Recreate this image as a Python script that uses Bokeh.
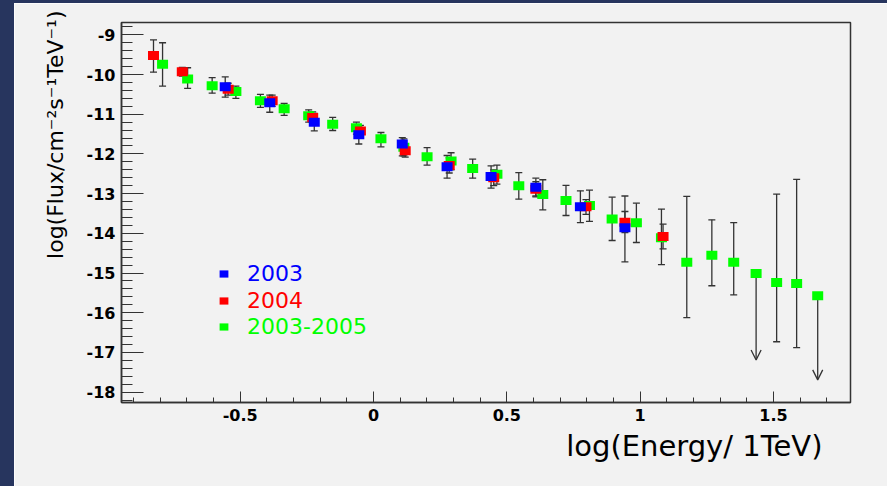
import numpy as np
from bokeh.plotting import figure
from bokeh.models import (ColumnDataSource, Whisker, TeeHead, Arrow, OpenHead, Title,
                          Legend, LegendItem, FixedTicker, Range1d, Div)
from bokeh.layouts import row, column
from bokeh.embed import file_html
from bokeh.resources import INLINE

# ---------------- data (log10 E/TeV, log10 flux) ----------------
x_2003 = [-0.556, -0.389, -0.222, -0.055, 0.108, 0.276, 0.441, 0.609, 0.776, 0.943]
y_2003 = [-10.31, -10.71, -11.20, -11.52, -11.75, -12.32, -12.57, -12.84, -13.33, -13.86]
hi_2003 = [-10.06, -10.52, -10.98, -11.30, -11.59, -12.04, -12.30, -12.61, -12.93, -13.06]
lo_2003 = [-10.57, -10.95, -11.42, -11.75, -12.05, -12.61, -12.86, -13.06, -13.73, -14.72]

x_2004 = [-0.825, -0.717, -0.545, -0.380, -0.228, -0.049, 0.119, 0.284, 0.451, 0.609, 0.797, 0.943, 1.086]
y_2004 = [-9.52, -9.93, -10.37, -10.66, -11.08, -11.42, -11.92, -12.29, -12.60, -12.89, -13.33, -13.72, -14.08]
hi_2004 = [-9.13, -9.82, -10.22, -10.52, -10.94, -11.28, -11.75, -12.10, -12.40, -12.70, -13.15, -13.45, -13.77]
lo_2004 = [-9.94, -10.04, -10.52, -10.80, -11.22, -11.56, -12.08, -12.48, -12.80, -13.08, -13.52, -13.98, -14.39]

x_0305 = [-0.791, -0.697, -0.605, -0.516, -0.424, -0.335, -0.243, -0.153, -0.064, 0.028,
          0.114, 0.201, 0.291, 0.372, 0.463, 0.545, 0.635, 0.722, 0.810, 0.895,
          0.986, 1.080, 1.175, 1.269, 1.351, 1.435, 1.512, 1.587, 1.666]
y_0305 = [-9.74, -10.11, -10.28, -10.43, -10.66, -10.86, -11.04, -11.25, -11.34, -11.62,
          -11.83, -12.07, -12.18, -12.37, -12.51, -12.80, -13.02, -13.17, -13.30, -13.64,
          -13.73, -14.11, -14.73, -14.55, -14.73, -15.01, -15.24, -15.26, -15.57]
hi_0305 = [-9.20, -9.83, -10.08, -10.29, -10.50, -10.73, -10.89, -11.08, -11.20, -11.46,
           -11.62, -11.84, -11.97, -12.13, -12.28, -12.47, -12.65, -12.79, -12.91, -13.09,
           -13.24, -13.39, -13.07, -13.66, -13.73, None, -13.01, -12.64, None]
lo_0305 = [-10.29, -10.35, -10.47, -10.60, -10.83, -11.03, -11.20, -11.41, -11.50, -11.82,
           -12.05, -12.28, -12.40, -12.61, -12.76, -13.14, -13.41, -13.55, -13.70, -14.18,
           -14.23, -14.79, -16.12, -15.32, -15.55, None, -16.73, -16.88, None]
# upper limits (arrow tips) for the 2003-2005 points without error bars
ul_tip_0305 = [None] * 25 + [-17.19, None, None, -17.69]

series_labels = ["2003", "2004", "2003-2005"]
series_colors = ["#0000ff", "#ff0000", "#00ff00"]

x_ticks = [-0.5, 0, 0.5, 1, 1.5]
x_tick_labels = ["-0.5", "0", "0.5", "1", "1.5"]
y_ticks = [-18, -17, -16, -15, -14, -13, -12, -11, -10, -9]
y_tick_labels = ["-18", "-17", "-16", "-15", "-14", "-13", "-12", "-11", "-10", "-9"]
x_title = "log(Energy/ 1TeV)"
y_title = "log(Flux/cm\u207b\u00b2s\u207b\u00b9TeV\u207b\u00b9)"

# ---------------- figure ----------------
PANEL = "#f2f2f2"
INK = "#333333"
DARK = "#27355e"

p = figure(frame_width=729, frame_height=380,
           min_border_left=107, min_border_right=37, min_border_top=19, min_border_bottom=84,
           x_range=Range1d(-0.945, 1.789), y_range=Range1d(-18.26, -8.69),
           output_backend="svg", toolbar_location=None,
           background_fill_color=PANEL, border_fill_color=PANEL)
p.grid.visible = False
p.outline_line_color = INK
p.outline_line_width = 1.5

xa = p.xaxis[0]
xa.ticker = FixedTicker(ticks=x_ticks,
                        minor_ticks=[round(v, 2) for v in np.arange(-0.9, 1.79, 0.1)])
xa.major_label_overrides = dict(zip(x_ticks, x_tick_labels))
xa.major_tick_in = 11
xa.major_tick_out = 0
xa.minor_tick_in = 5
xa.minor_tick_out = 0
xa.major_label_standoff = 6

ya = p.yaxis[0]
ya.ticker = FixedTicker(ticks=y_ticks,
                        minor_ticks=[round(v, 2) for v in np.arange(-18.2, -8.69, 0.2)])
ya.major_label_overrides = dict(zip(y_ticks, y_tick_labels))
ya.major_tick_in = 22
ya.major_tick_out = 0
ya.minor_tick_in = 11
ya.minor_tick_out = 0
ya.major_label_standoff = 6

for ax in (xa, ya):
    ax.axis_line_color = INK
    ax.axis_line_width = 1.5
    ax.major_tick_line_color = INK
    ax.minor_tick_line_color = INK
    ax.major_tick_line_width = 1
    ax.minor_tick_line_width = 1
    ax.major_label_text_font = "DejaVu Sans"
    ax.major_label_text_font_style = "bold"
    ax.major_label_text_font_size = "16px"
    ax.major_label_text_color = "black"
    ax.axis_label = None


def add_series(xs, ys, his, los, color):
    keep = [i for i in range(len(xs)) if his[i] is not None]
    wsrc = ColumnDataSource(dict(x=[xs[i] for i in keep],
                                 hi=[his[i] for i in keep],
                                 lo=[los[i] for i in keep]))
    p.add_layout(Whisker(source=wsrc, base="x", upper="hi", lower="lo", dimension="height",
                         line_color=INK, line_width=1.3, level="underlay",
                         upper_head=TeeHead(size=7, line_color=INK, line_width=1.3),
                         lower_head=TeeHead(size=7, line_color=INK, line_width=1.3)))
    src = ColumnDataSource(dict(x=xs, y=ys))
    return p.rect(x="x", y="y", width=11, height=9, width_units="screen",
                  height_units="screen", source=src, fill_color=color, line_color=None)


r0305 = add_series(x_0305, y_0305, hi_0305, lo_0305, series_colors[2])

ul_idx = [i for i, t in enumerate(ul_tip_0305) if t is not None]
ul_src = ColumnDataSource(dict(x=[x_0305[i] for i in ul_idx],
                               y=[y_0305[i] for i in ul_idx],
                               tip=[ul_tip_0305[i] for i in ul_idx]))
p.add_layout(Arrow(source=ul_src, x_start="x", y_start="y", x_end="x", y_end="tip",
                   line_color=INK, line_width=1.3, level="underlay",
                   end=OpenHead(size=10, line_color=INK, line_width=1.3)))

r2004 = add_series(x_2004, y_2004, hi_2004, lo_2004, series_colors[1])
r2003 = add_series(x_2003, y_2003, hi_2003, lo_2003, series_colors[0])

# legends (one per entry so each label keeps its own colour)
for k, (lab, col, rend) in enumerate(zip(series_labels, series_colors, [r2003, r2004, r0305])):
    leg = Legend(items=[LegendItem(label=lab, renderers=[rend])],
                 location=(97, 116 - 26.5 * k),
                 padding=0, margin=0, spacing=0,
                 border_line_color=None, background_fill_alpha=0,
                 glyph_width=11, glyph_height=9, label_standoff=18,
                 label_text_font="DejaVu Sans", label_text_font_size="22px",
                 label_text_color=col)
    p.add_layout(leg)

p.add_layout(Title(text=x_title, align="right", offset=28, standoff=6,
                   text_font="DejaVu Sans", text_font_size="29px",
                   text_font_style="normal", text_color="black"), "below")
p.add_layout(Title(text=y_title, align="right", offset=-12, standoff=32,
                   text_font="DejaVu Sans", text_font_size="22px",
                   text_font_style="normal", text_color="black"), "left")

left_strip = Div(width=14, height=486, margin=0, styles={"background-color": DARK})
top_strip = Div(width=873, height=3, margin=0, styles={"background-color": DARK})
layout = row(left_strip, column(top_strip, p, spacing=0), spacing=0)

open("out.html", "w").write(file_html(layout, INLINE))
